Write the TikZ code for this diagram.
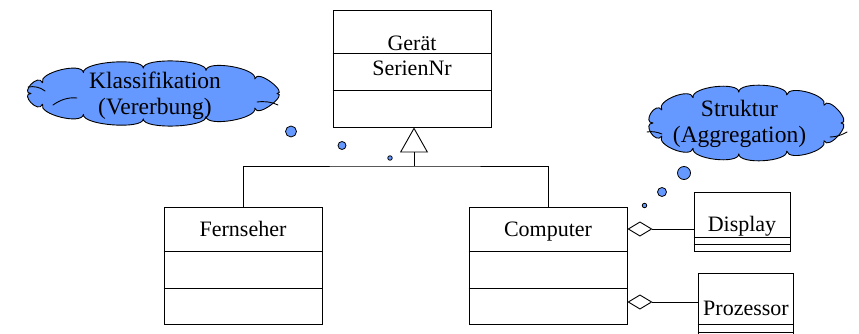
\documentclass[tikz,border=0pt]{standalone}
\usepackage{fontspec}
\setmainfont{Liberation Serif}
\usetikzlibrary{positioning,arrows.meta,calc}
\definecolor{cloudblue}{RGB}{102,153,255}
\tikzset{
  cls/.style={draw,line width=0.9pt,minimum width=158pt,minimum height=117pt,inner sep=0pt},
  part/.style={line width=0.9pt},
  ctext/.style={anchor=base,inner sep=0pt,font=\fontsize{22}{26}\selectfont},
  cloudline/.style={draw,fill=cloudblue,line width=0.9pt,line join=round},
  curl/.style={line width=0.9pt,line cap=round},
  ttext/.style={align=center,inner sep=0pt,font=\fontsize{23.5}{26}\selectfont},
  bubble/.style={circle,draw,fill=cloudblue,line width=0.8pt,inner sep=0pt},
  gen/.style={line width=0.9pt,-{Triangle[open,length=25pt,width=28pt]}},
  agg/.style={line width=0.9pt,-{Diamond[open,length=25pt,width=15pt]}},
}
% puffy cloud: #1 name prefix, centre #2/#3, half axes of the valleys #4/#5
\newcommand{\puffcloud}[5]{%
  \foreach \t [count=\i] in {0,35,65,95,125,155,180,205,235,265,295,325} {
    \pgfmathsetmacro\nn{sqrt((#5*cos(\t))^2+(#4*sin(\t))^2)}
    \coordinate (#1v\i) at ({#2+#4*cos(\t)},{#3+#5*sin(\t)});
    \coordinate (#1o\i) at ({#2+#4*cos(\t)+11*#5*cos(\t)/\nn},{#3+#5*sin(\t)+11*#4*sin(\t)/\nn});
  }
  \draw[cloudline] (#1v1) \foreach \i [evaluate=\i as \j using {int(mod(\i,12)+1)}] in {1,...,12} {
    .. controls (#1o\i) and (#1o\j) .. (#1v\j) } -- cycle;
}
\begin{document}
\begin{tikzpicture}[x=1pt,y=-1pt]
  \useasboundingbox (0,0) rectangle (859,334);
  % classes
  \node[cls] (geraet) at (412,68.5) {};
  \node[cls] (fern) at (243,265.5) {};
  \node[cls] (comp) at (548,265.5) {};
  \node[cls,minimum width=96pt,minimum height=59pt] (disp) at (742,221.5) {};
  \node[cls,minimum width=95pt,minimum height=67pt] (proz) at (745.5,306.5) {};
  % compartments
  \foreach \n/\ya/\yb in {geraet/53/90,fern/251/288,comp/251/288,disp/237/244,proz/324/332}{
    \draw[part] (\n.west |- 0,\ya) -- (\n.east |- 0,\ya);
    \draw[part] (\n.west |- 0,\yb) -- (\n.east |- 0,\yb);
  }
  \node[ctext] (geraetname) at (412,51) {Gerät};
  \node[ctext] (serien) at (412,76) {SerienNr};
  \node[ctext] (fernname) at (243,236) {Fernseher};
  \node[ctext] (compname) at (548,236) {Computer};
  \node[ctext] (dispname) at (742,231) {Display};
  \node[ctext] (prozname) at (746,315) {Prozessor};
  % vererbung
  \coordinate (fork) at (414,166);
  \draw[gen] (fork) -- (geraet.south -| fork);
  \draw[part] (fern.north) |- (fork) -| (comp.north);
  % aggregation
  \draw[agg] (disp.west |- 0,229) -- (comp.east |- 0,229);
  \draw[agg] (proz.west |- 0,302) -- (comp.east |- 0,302);
  % gedankenwolken
  \puffcloud{k}{154}{93.5}{123}{25.5}
  \draw[curl] (28,87) .. controls (34,86) and (40,87) .. (45,91);
  \draw[curl] (53,105) .. controls (60,100) and (68,97) .. (77,98);
  \draw[curl] (257,102) .. controls (265,101) and (272,102) .. (278,105);
  \node[ttext] (klasstext) at (155,96) {Klassifikation\\(Vererbung)};
  \node[bubble,minimum size=11pt] (k1) at (291,131.5) {};
  \node[bubble,minimum size=8pt] (k2) at (342,145.5) {};
  \node[bubble,minimum size=4.5pt] (k3) at (390,158) {};
  \puffcloud{s}{747}{123}{94}{31}
  \draw[curl] (647,132) .. controls (652,131) and (657,132) .. (662,134);
  \draw[curl] (830,137) .. controls (836,137) and (842,135) .. (847,132);
  \node[ttext] (strukttext) at (739.5,124) {Struktur\\(Aggregation)};
  \node[bubble,minimum size=13pt] (s1) at (684,173) {};
  \node[bubble,minimum size=9pt] (s2) at (662,192) {};
  \node[bubble,minimum size=4.5pt] (s3) at (644.5,205.5) {};
\end{tikzpicture}
\end{document}
